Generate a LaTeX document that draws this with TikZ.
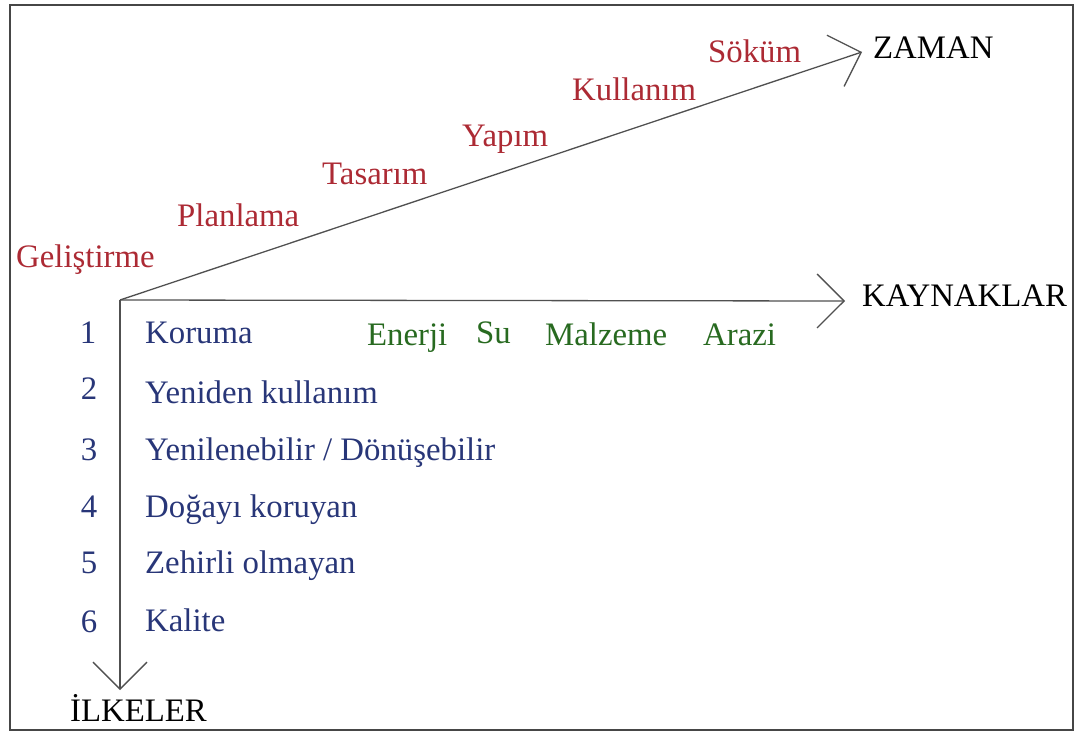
\documentclass[tikz,border=0pt]{standalone}
\usepackage{fontspec}
\setmainfont{Liberation Serif}
\usetikzlibrary{arrows.meta}
\definecolor{stagered}{RGB}{172,42,52}
\definecolor{ruleblue}{RGB}{40,54,120}
\definecolor{resgreen}{RGB}{40,106,32}
\definecolor{axisgrey}{RGB}{80,80,80}
\definecolor{framegrey}{RGB}{70,70,70}
\begin{document}
\begin{tikzpicture}[x=1pt,y=-1pt,
  axis/.style={draw=axisgrey, line width=1.3pt,
    -{Straight Barb[length=27pt,width=54pt]}},
  lbl/.style={anchor=base west, inner sep=0pt, font=\fontsize{32.8}{38}\selectfont},
  stage/.style={lbl, text=stagered},
  rule/.style={lbl, text=ruleblue},
  num/.style={lbl, anchor=base, text=ruleblue},
  res/.style={lbl, text=resgreen},
  axislabel/.style={lbl, text=black}
]
\useasboundingbox (0,0) rectangle (1080,734);
\draw[framegrey, line width=2pt] (10,5) rectangle (1073,730);

% axes
\coordinate (O) at (120,300);
\coordinate (timeTip) at (862,52);
\coordinate (resTip) at (845,301);
\coordinate (ruleTip) at (120,690);
\draw[axis] (O) -- (timeTip);
\draw[axis] (O) -- (resTip);
\draw[axis] (O) -- (ruleTip);

% axis names
\node[axislabel] (zaman) at (873,58) {ZAMAN};
\node[axislabel] (kaynak) at (862,306) {KAYNAKLAR};
\node[axislabel] (ilke) at (70,721) {İLKELER};

% life-cycle stages along the time axis
\node[stage] (s1) at (16,267) {Geliştirme};
\node[stage] (s2) at (177,226) {Planlama};
\node[stage] (s3) at (322,184) {Tasarım};
\node[stage] (s4) at (462,146) {Yapım};
\node[stage] (s5) at (572,100) {Kullanım};
\node[stage] (s6) at (708,62) {Söküm};

% resources
\node[res] (r1) at (367,345) {Enerji};
\node[res] (r2) at (476,343) {Su};
\node[res] (r3) at (545,345) {Malzeme};
\node[res] (r4) at (703,345) {Arazi};

% principles
\node[num] (n1) at (88,343) {1};
\node[num] (n2) at (89,399) {2};
\node[num] (n3) at (89,460) {3};
\node[num] (n4) at (89,517) {4};
\node[num] (n5) at (89,573) {5};
\node[num] (n6) at (89,632) {6};
\node[rule] (p1) at (145,343) {Koruma};
\node[rule] (p2) at (145,403) {Yeniden kullanım};
\node[rule] (p3) at (145,460) {Yenilenebilir / Dönüşebilir};
\node[rule] (p4) at (145,517) {Doğayı koruyan};
\node[rule] (p5) at (145,573) {Zehirli olmayan};
\node[rule] (p6) at (145,631) {Kalite};
\end{tikzpicture}
\end{document}
